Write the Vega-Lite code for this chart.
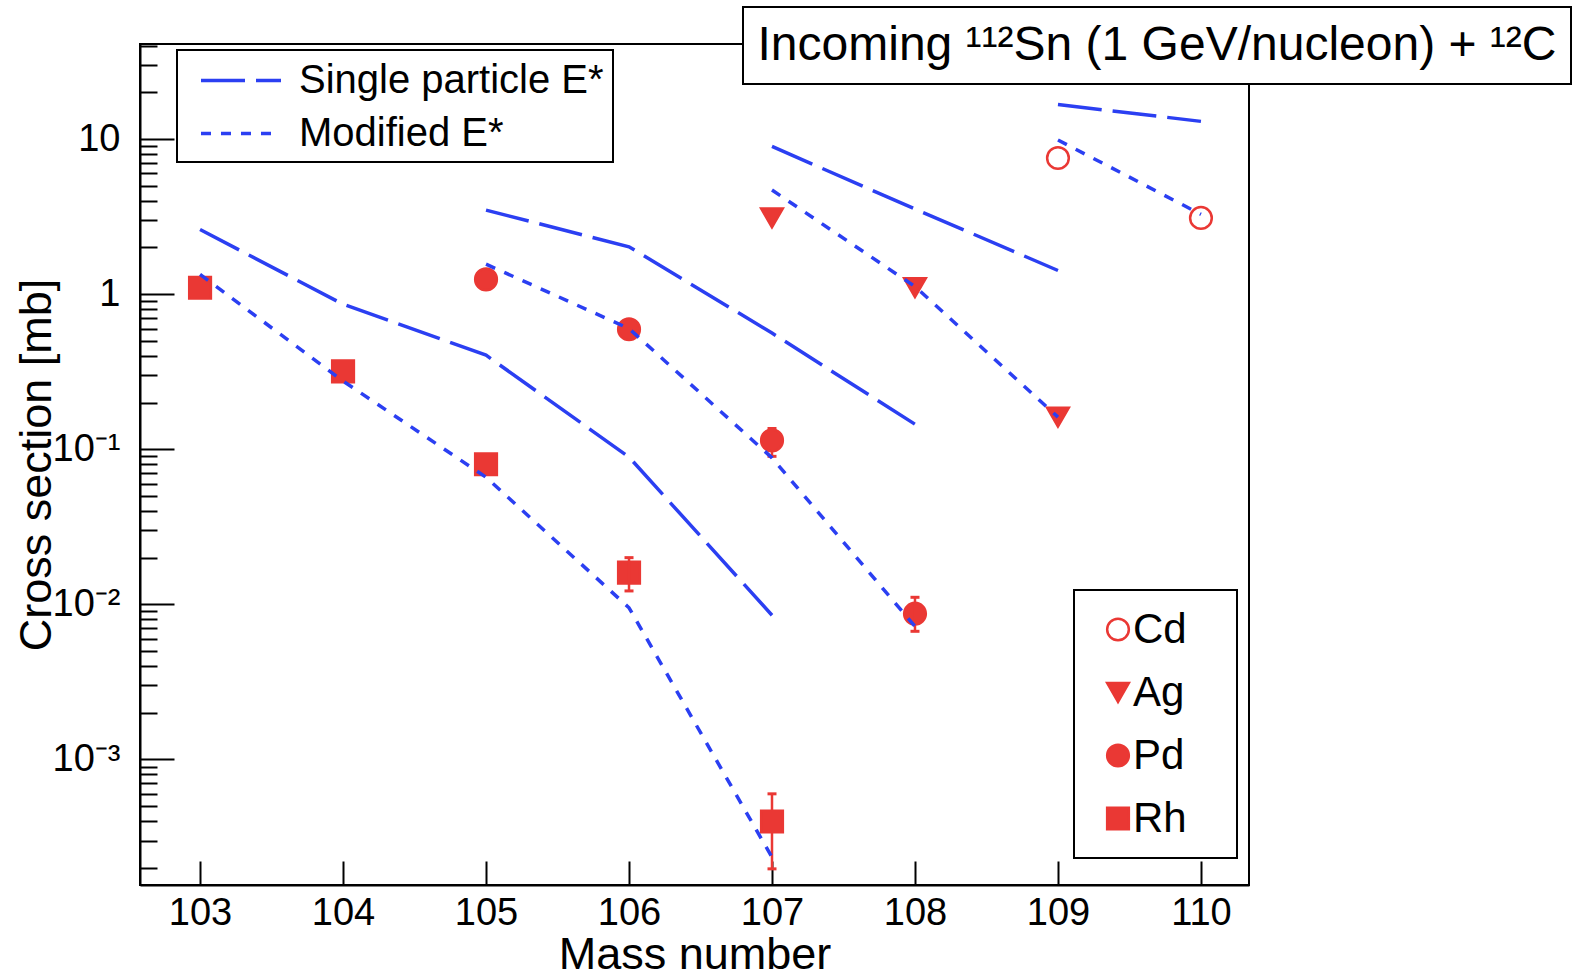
{
  "$schema": "https://vega.github.io/schema/vega-lite/v6.json",
  "width": 1109,
  "height": 841,
  "autosize": {"type": "none"},
  "padding": {"left": 140, "top": 44, "right": 330, "bottom": 89},
  "background": "white",
  "config": {
    "font": "Liberation Sans",
    "view": {"stroke": "black", "strokeWidth": 2},
    "axis": {"grid": false, "domainColor": "black", "domainWidth": 2, "tickColor": "black", "tickWidth": 2, "labelColor": "black", "titleColor": "black", "labelFont": "Liberation Sans", "titleFont": "Liberation Sans"},
    "legend": {"labelColor": "black", "labelFont": "Liberation Sans", "strokeWidth": 2}
  },
  "datasets": {
    "points": [
      {"el": "Rh", "A": 103, "xs": 1.10},
      {"el": "Rh", "A": 104, "xs": 0.318},
      {"el": "Rh", "A": 105, "xs": 0.080},
      {"el": "Rh", "A": 106, "xs": 0.016, "lo": 0.0122, "hi": 0.020},
      {"el": "Rh", "A": 107, "xs": 0.000398, "lo": 0.000197, "hi": 0.00060},
      {"el": "Pd", "A": 105, "xs": 1.245},
      {"el": "Pd", "A": 106, "xs": 0.594},
      {"el": "Pd", "A": 107, "xs": 0.114, "lo": 0.090, "hi": 0.136},
      {"el": "Pd", "A": 108, "xs": 0.0087, "lo": 0.0067, "hi": 0.0111},
      {"el": "Ag", "A": 107, "xs": 3.1},
      {"el": "Ag", "A": 108, "xs": 1.1},
      {"el": "Ag", "A": 109, "xs": 0.161},
      {"el": "Cd", "A": 109, "xs": 7.55},
      {"el": "Cd", "A": 110, "xs": 3.10}
    ],
    "curves": [
      {"el": "Rh", "model": "Single particle E*", "A": 103, "xs": 2.61},
      {"el": "Rh", "model": "Single particle E*", "A": 104, "xs": 0.861},
      {"el": "Rh", "model": "Single particle E*", "A": 105, "xs": 0.404},
      {"el": "Rh", "model": "Single particle E*", "A": 106, "xs": 0.089},
      {"el": "Rh", "model": "Single particle E*", "A": 107, "xs": 0.0085},
      {"el": "Pd", "model": "Single particle E*", "A": 105, "xs": 3.48},
      {"el": "Pd", "model": "Single particle E*", "A": 106, "xs": 2.02},
      {"el": "Pd", "model": "Single particle E*", "A": 107, "xs": 0.561},
      {"el": "Pd", "model": "Single particle E*", "A": 108, "xs": 0.145},
      {"el": "Ag", "model": "Single particle E*", "A": 107, "xs": 8.96},
      {"el": "Ag", "model": "Single particle E*", "A": 108, "xs": 3.54},
      {"el": "Ag", "model": "Single particle E*", "A": 109, "xs": 1.42},
      {"el": "Cd", "model": "Single particle E*", "A": 109, "xs": 16.7},
      {"el": "Cd", "model": "Single particle E*", "A": 110, "xs": 13.0},
      {"el": "Rh", "model": "Modified E*", "A": 103, "xs": 1.34},
      {"el": "Rh", "model": "Modified E*", "A": 104, "xs": 0.275},
      {"el": "Rh", "model": "Modified E*", "A": 105, "xs": 0.066},
      {"el": "Rh", "model": "Modified E*", "A": 106, "xs": 0.0095},
      {"el": "Rh", "model": "Modified E*", "A": 107, "xs": 0.000234},
      {"el": "Pd", "model": "Modified E*", "A": 105, "xs": 1.56},
      {"el": "Pd", "model": "Modified E*", "A": 106, "xs": 0.60},
      {"el": "Pd", "model": "Modified E*", "A": 107, "xs": 0.088},
      {"el": "Pd", "model": "Modified E*", "A": 108, "xs": 0.0072},
      {"el": "Ag", "model": "Modified E*", "A": 107, "xs": 4.69},
      {"el": "Ag", "model": "Modified E*", "A": 108, "xs": 1.12},
      {"el": "Ag", "model": "Modified E*", "A": 109, "xs": 0.161},
      {"el": "Cd", "model": "Modified E*", "A": 109, "xs": 9.86},
      {"el": "Cd", "model": "Modified E*", "A": 110, "xs": 3.27}
    ],
    "reaction": [{"reaction": "Incoming ¹¹²Sn (1 GeV/nucleon) + ¹²C"}]
  },
  "layer": [
    {
      "data": {"name": "points"},
      "mark": {"type": "point", "strokeWidth": 2.5, "size": 470, "opacity": 1},
      "encoding": {
        "x": {"field": "A", "type": "quantitative", "title": "Mass number",
          "scale": {"domain": [102.58, 110.336], "nice": false, "zero": false},
          "axis": {"values": [103, 103.5, 104, 104.5, 105, 105.5, 106, 106.5, 107, 107.5, 108, 108.5, 109, 109.5, 110],
            "labelExpr": "datum.value % 1 === 0 ? datum.label : ''", "format": "d",
            "tickSize": {"condition": {"test": "datum.value % 1 === 0", "value": -24}, "value": -12},
            "labelPadding": 33, "labelFontSize": 38, "labelFlush": false, "labelOverlap": false,
            "titleFontSize": 45, "titleFontWeight": "normal", "titleY": 83, "titleBaseline": "alphabetic"}},
        "y": {"field": "xs", "type": "quantitative", "title": "Cross section [mb]",
          "scale": {"type": "log", "domain": [0.000155, 41], "nice": false},
          "axis": {"values": [0.0002, 0.0003, 0.0004, 0.0005, 0.0006, 0.0007, 0.0008, 0.0009, 0.001, 0.002, 0.003, 0.004, 0.005, 0.006, 0.007, 0.008, 0.009, 0.01, 0.02, 0.03, 0.04, 0.05, 0.06, 0.07, 0.08, 0.09, 0.1, 0.2, 0.3, 0.4, 0.5, 0.6, 0.7, 0.8, 0.9, 1, 2, 3, 4, 5, 6, 7, 8, 9, 10, 20, 30, 40],
            "labelExpr": "datum.value == 10 ? '10' : datum.value == 1 ? '1' : datum.value == 0.1 ? '10⁻¹' : datum.value == 0.01 ? '10⁻²' : datum.value == 0.001 ? '10⁻³' : ''",
            "tickSize": {"condition": {"test": "datum.value == 10 || datum.value == 1 || datum.value == 0.1 || datum.value == 0.01 || datum.value == 0.001", "value": -34}, "value": -17},
            "labelPadding": 54, "labelFontSize": 38, "labelFlush": false, "labelOverlap": false,
            "titleFontSize": 45, "titleFontWeight": "normal", "titleX": -90, "titleY": 420.5, "titleAngle": 270, "titleBaseline": "alphabetic"}},
        "shape": {"field": "el", "type": "nominal",
          "scale": {"domain": ["Cd", "Ag", "Pd", "Rh"], "range": ["circle", "triangle-down", "circle", "square"]},
          "legend": {"title": null, "orient": "none", "legendX": 934, "legendY": 546, "labelFontSize": 42, "symbolSize": 470, "rowPadding": 21, "padding": 18.5, "strokeColor": "black", "fillColor": "white", "symbolOffset": 4.5, "labelOffset": -6, "labelLimit": 500, "symbolStrokeWidth": 2.5,
            "labelExpr": "datum.label + '⠀'"}},
        "fill": {"field": "el", "type": "nominal",
          "scale": {"domain": ["Cd", "Ag", "Pd", "Rh"], "range": ["transparent", "#ea3834", "#ea3834", "#ea3834"]},
          "legend": {"title": null, "orient": "none", "legendX": 934, "legendY": 546, "labelFontSize": 42, "symbolSize": 470, "rowPadding": 21, "padding": 18.5, "strokeColor": "black", "fillColor": "white", "symbolOffset": 4.5, "labelOffset": -6, "labelLimit": 500, "symbolStrokeWidth": 2.5,
            "labelExpr": "datum.label + '⠀'"}},
        "stroke": {"field": "el", "type": "nominal",
          "scale": {"domain": ["Cd", "Ag", "Pd", "Rh"], "range": ["#ea3834", "#ea3834", "#ea3834", "#ea3834"]},
          "legend": {"title": null, "orient": "none", "legendX": 934, "legendY": 546, "labelFontSize": 42, "symbolSize": 470, "rowPadding": 21, "padding": 18.5, "strokeColor": "black", "fillColor": "white", "symbolOffset": 4.5, "labelOffset": -6, "labelLimit": 500, "symbolStrokeWidth": 2.5,
            "labelExpr": "datum.label + '⠀'"}}
      }
    },
    {
      "data": {"name": "points"},
      "transform": [{"filter": "isValid(datum.lo)"}],
      "mark": {"type": "rule", "color": "#ea3834", "strokeWidth": 2.5},
      "encoding": {
        "x": {"field": "A", "type": "quantitative", "title": "Mass number"},
        "y": {"field": "lo", "type": "quantitative", "title": "Cross section [mb]"},
        "y2": {"field": "hi"}
      }
    },
    {
      "data": {"name": "points"},
      "transform": [{"filter": "isValid(datum.lo)"}],
      "mark": {"type": "tick", "orient": "horizontal", "color": "#ea3834", "size": 9, "thickness": 3, "opacity": 1},
      "encoding": {
        "x": {"field": "A", "type": "quantitative", "title": "Mass number"},
        "y": {"field": "lo", "type": "quantitative", "title": "Cross section [mb]"}
      }
    },
    {
      "data": {"name": "points"},
      "transform": [{"filter": "isValid(datum.hi)"}],
      "mark": {"type": "tick", "orient": "horizontal", "color": "#ea3834", "size": 9, "thickness": 3, "opacity": 1},
      "encoding": {
        "x": {"field": "A", "type": "quantitative", "title": "Mass number"},
        "y": {"field": "hi", "type": "quantitative", "title": "Cross section [mb]"}
      }
    },
    {
      "data": {"name": "curves"},
      "mark": {"type": "line", "color": "#2b3ff2", "strokeWidth": 3.5},
      "encoding": {
        "x": {"field": "A", "type": "quantitative", "title": "Mass number"},
        "y": {"field": "xs", "type": "quantitative", "title": "Cross section [mb]"},
        "detail": {"field": "el", "type": "nominal"},
        "strokeDash": {"field": "model", "type": "nominal",
          "scale": {"domain": ["Single particle E*", "Modified E*"], "range": [[44, 11], [10, 10]]},
          "legend": {"title": null, "orient": "none", "legendX": 37, "legendY": 6, "labelFontSize": 40, "symbolType": "M-2,0H2", "symbolSize": 1600, "symbolStrokeWidth": 3.5, "symbolStrokeColor": "#2b3ff2", "symbolFillColor": "transparent", "symbolOffset": 33.5, "labelOffset": 36, "rowPadding": 11, "padding": 8.5, "labelLimit": 1000, "strokeColor": "black", "fillColor": "white"}}
      }
    },
    {
      "data": {"name": "reaction"},
      "mark": {"type": "point", "opacity": 0},
      "encoding": {
        "color": {"field": "reaction", "type": "nominal", "scale": {"range": ["white"]},
          "legend": {"title": null, "orient": "none", "legendX": 603, "legendY": -37, "labelFontSize": 48, "symbolSize": 1, "symbolOpacity": 0, "labelOffset": -48, "padding": 14.5, "labelLimit": 2000, "strokeColor": "black", "fillColor": "white"}}
      }
    }
  ]
}
